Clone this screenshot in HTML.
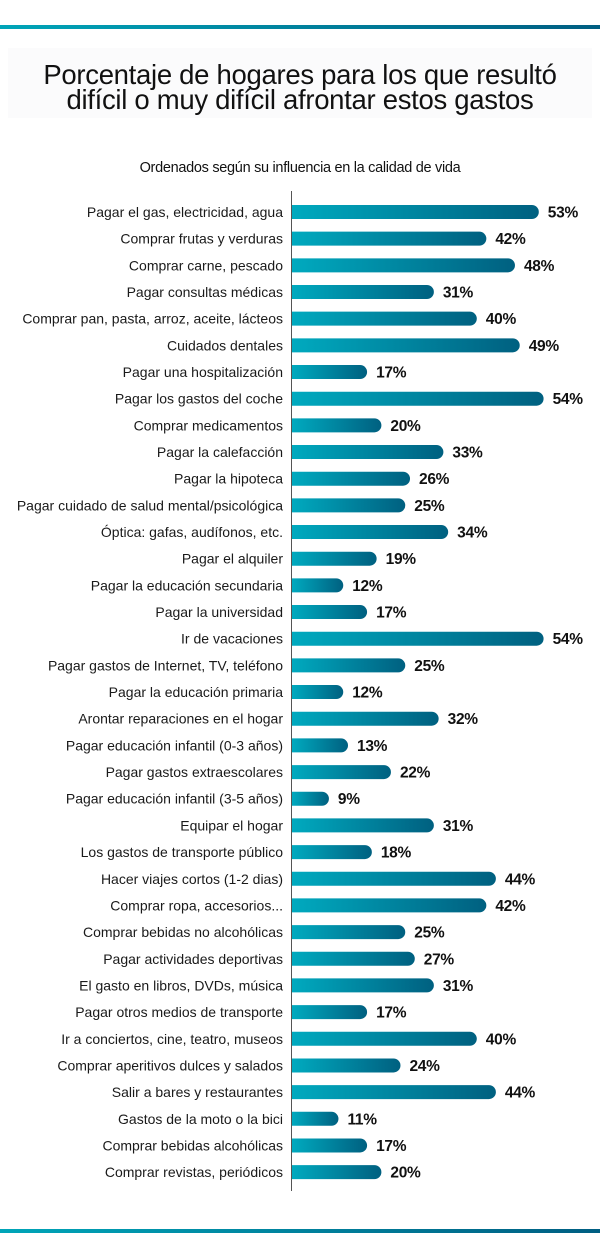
<!DOCTYPE html>
<html><head><meta charset="utf-8"><style>
body{margin:0;background:#fff;width:600px;height:1258px;overflow:hidden}
svg{display:block}
</style></head><body>
<svg width="600" height="1258" viewBox="0 0 600 1258" xmlns="http://www.w3.org/2000/svg">
<defs>
<linearGradient id="g" x1="0" x2="1" y1="0" y2="0"><stop offset="0" stop-color="#00aabf"/><stop offset="1" stop-color="#006080"/></linearGradient>
<linearGradient id="h" x1="0" x2="1" y1="0" y2="0"><stop offset="0" stop-color="#00a5b8"/><stop offset="1" stop-color="#005e82"/></linearGradient>
</defs>
<rect x="0" y="25" width="600" height="4" fill="url(#h)"/>
<rect x="0" y="1229" width="600" height="4" fill="url(#h)"/>
<rect x="8" y="48" width="584" height="70" fill="#fbfbfc"/>
<g font-family="Liberation Sans, sans-serif" fill="#111" text-anchor="middle">
<text x="300" y="84" font-size="27.5" letter-spacing="-0.3">Porcentaje de hogares para los que resultó</text>
<text x="300" y="109" font-size="27.5" letter-spacing="-0.3">difícil o muy difícil afrontar estos gastos</text>
<text x="300" y="172" font-size="14.5" letter-spacing="-0.3">Ordenados según su influencia en la calidad de vida</text>
</g>
<line x1="291.5" y1="191" x2="291.5" y2="1191" stroke="#555" stroke-width="1"/>
<g id="bars" font-family="Liberation Sans, sans-serif"></g>
</svg>
<script>
var d=[["Pagar el gas, electricidad, agua",53],["Comprar frutas y verduras",42],["Comprar carne, pescado",48],["Pagar consultas médicas",31],["Comprar pan, pasta, arroz, aceite, lácteos",40],["Cuidados dentales",49],["Pagar una hospitalización",17],["Pagar los gastos del coche",54],["Comprar medicamentos",20],["Pagar la calefacción",33],["Pagar la hipoteca",26],["Pagar cuidado de salud mental/psicológica",25],["Óptica: gafas, audífonos, etc.",34],["Pagar el alquiler",19],["Pagar la educación secundaria",12],["Pagar la universidad",17],["Ir de vacaciones",54],["Pagar gastos de Internet, TV, teléfono",25],["Pagar la educación primaria",12],["Arontar reparaciones en el hogar",32],["Pagar educación infantil (0-3 años)",13],["Pagar gastos extraescolares",22],["Pagar educación infantil (3-5 años)",9],["Equipar el hogar",31],["Los gastos de transporte público",18],["Hacer viajes cortos (1-2 dias)",44],["Comprar ropa, accesorios...",42],["Comprar bebidas no alcohólicas",25],["Pagar actividades deportivas",27],["El gasto en libros, DVDs, música",31],["Pagar otros medios de transporte",17],["Ir a conciertos, cine, teatro, museos",40],["Comprar aperitivos dulces y salados",24],["Salir a bares y restaurantes",44],["Gastos de la moto o la bici",11],["Comprar bebidas alcohólicas",17],["Comprar revistas, periódicos",20]];
var s="";
d.forEach(function(r,i){var c=212+i*26.67,w=4.77*r[1]-6;
s+='<path d="M292 '+(c-7)+'H'+(292+w-7)+'a7 7 0 0 1 0 14H292Z" fill="url(#g)"/>';
s+='<text x="283" y="'+(c+5)+'" font-size="14" letter-spacing="0" text-anchor="end" fill="#1a1a1a">'+r[0]+'</text>';
s+='<text x="'+(292+w+9)+'" y="'+(c+5.5)+'" font-size="15.5" font-weight="bold" letter-spacing="-0.3" fill="#111">'+r[1]+'%</text>';});
document.getElementById("bars").innerHTML=s;
</script>
</body></html>
